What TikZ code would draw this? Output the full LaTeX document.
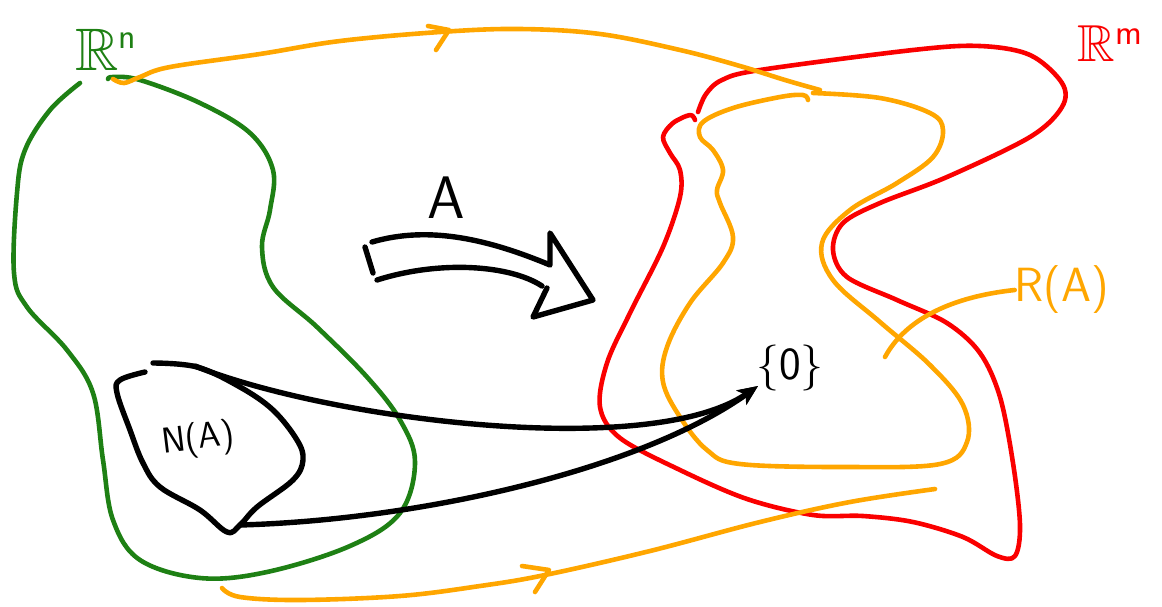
\documentclass[tikz,border=0pt]{standalone}
\usepackage{amssymb}
\usepackage{fontspec}
\usetikzlibrary{arrows.meta}
\definecolor{sgreen}{RGB}{30,128,20}
\definecolor{sorange}{RGB}{255,166,0}
\definecolor{sred}{RGB}{250,0,0}
\tikzset{
  pen/.style={line width=4.6pt,line cap=round,line join=round},
  gpen/.style={pen,draw=sgreen},
  opn/.style={pen,draw=sorange},
  rpen/.style={pen,draw=sred},
  kpen/.style={line width=5.4pt,line cap=round,line join=round,draw=black},
  lbl/.style={inner sep=0pt,font=\sffamily},
}
\newcommand{\supsf}[2]{\raisebox{#1}{\fontsize{36}{36}\selectfont\sffamily #2}}
\begin{document}
\begin{tikzpicture}[x=1pt,y=-1pt]
\useasboundingbox (0,0) rectangle (1162,606);
% green R^n region
\draw[gpen] plot[smooth,tension=0.6] coordinates {(80,83) (50,110) (25,150) (17,193) (14,273) (27,307) (67,350) (93,393) (103,460) (113,520) (140,560) (200,578) (267,572) (350,546) (400,513) (415,462) (400,420) (367,377) (317,327) (273,287) (262,247) (270,210) (273,170) (250,133) (200,103) (140,80) (113,77) (108,79)};
\node[lbl,text=sgreen,font=\fontsize{60}{60}\selectfont] (Rn) at (106,50) {$\mathbb{R}$\supsf{22pt}{n}};
% red R^m region
\draw[rpen] plot[smooth,tension=0.55] coordinates {(698,112) (706,94) (722,80) (760,70) (913,50) (980,46) (1030,55) (1062,83) (1062,107) (1030,137) (947,177) (880,203) (843,223) (833,250) (847,277) (897,300) (947,323) (980,353) (1000,397) (1013,463) (1020,525) (1015,556) (997,556) (963,537) (913,522) (863,516) (813,515) (747,499) (680,470) (620,438) (600,407) (607,363) (630,313) (663,247) (680,197) (680,170) (670,153) (663,137) (673,123) (690,115) (695,120)};
\node[lbl,text=sred,font=\fontsize{52}{52}\selectfont] (Rm) at (1110,44) {$\mathbb{R}$\supsf{17pt}{m}};
% orange R(A) region
\draw[opn] plot[smooth,tension=0.6] coordinates {(813,93) (880,98) (930,113) (943,130) (933,157) (897,183) (850,210) (822,243) (833,280) (880,322) (930,365) (963,405) (967,442) (940,464) (847,467) (740,464) (707,450) (680,417) (663,382) (667,347) (690,303) (723,263) (733,237) (720,203) (717,190) (723,170) (713,150) (700,137) (703,122) (733,108) (780,97) (803,95) (808,100)};
\node[lbl,text=sorange,font=\fontsize{48}{48}\selectfont\sffamily] (RA) at (1062,290) {R(A)};
\coordinate (RApt) at (885,357);
\draw[opn] (RA.west) .. controls (950,297) and (905,320) .. (RApt);
% orange top path with arrowhead
\draw[opn] plot[smooth,tension=0.6] coordinates {(113,79) (124,83) (140,77) (170,67) (260,54) (340,41) (440,32) (520,29) (600,34) (680,50) (740,66) (785,80) (820,90)};
\draw[opn] (428,26) -- (449,30) -- (436,50);
% orange bottom path with arrowhead
\draw[opn] plot[smooth,tension=0.6] coordinates {(222,588) (240,597) (300,600) (400,596) (480,586) (545,575) (650,551) (760,522) (850,502) (935,489)};
\draw[opn] (522,566) -- (549,570) -- (535,592);
% N(A) blob
\draw[kpen] plot[smooth,tension=0.6] coordinates {(145,372) (120,380) (117,393) (130,430) (143,463) (160,487) (200,510) (227,532) (240,525) (257,507) (293,480) (303,460) (297,440) (273,410) (240,387) (197,367) (153,363)};
\node[lbl,font=\fontsize{36}{36}\selectfont\sffamily,rotate=7] (NA) at (198,440) {N(A)};
\coordinate (nTop) at (195,366);
\coordinate (nBot) at (240,525);
% {0}
\node[lbl,font=\fontsize{46}{46}\selectfont\sffamily] (zero) at (790,368) {\{0\}};
\coordinate (tip) at (758,386);
\draw[kpen,-{Stealth[length=20pt,width=17pt,inset=5pt]}] (nTop) .. controls (330,420) and (650,460) .. (tip);
\draw[kpen,-{Stealth[length=20pt,width=17pt,inset=5pt]}] (nBot) .. controls (420,520) and (640,470) .. (tip);
% big hollow arrow A
\draw[kpen] (365,247) -- (373,273);
\draw[kpen] (372,242) .. controls (430,225) and (490,240) .. (550,265) -- (550,233) -- (593,300) -- (533,317) -- (547,288);
\draw[kpen] (377,280) .. controls (440,260) and (510,265) .. (542,286);
\node[lbl,font=\fontsize{60}{60}\selectfont\sffamily] (A) at (446,198) {A};
\end{tikzpicture}
\end{document}
